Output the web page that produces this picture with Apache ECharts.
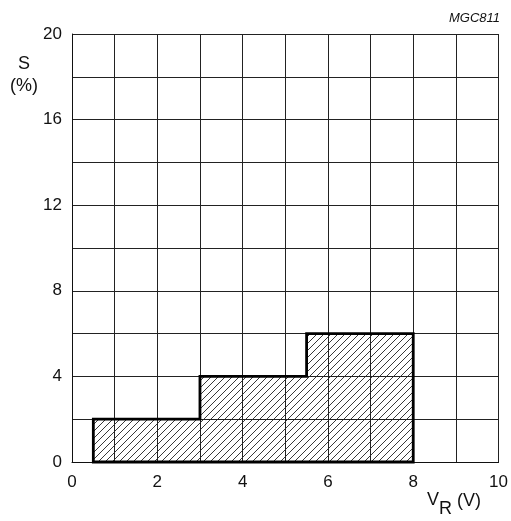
<!DOCTYPE html>
<html><head><meta charset="utf-8">
<script src="https://cdn.jsdelivr.net/npm/echarts@6/dist/echarts.min.js"></script>
<style>html,body{margin:0;padding:0;background:#fff}#c{width:511px;height:521px}</style>
</head><body><div id="c"></div>
<script>
// Data
var stepX = [0.5, 3, 5.5, 8];      // step boundaries, V_R (V)
var stepY = [2, 4, 6];             // S (%) in each interval
var xTicks = [0, 2, 4, 6, 8, 10];
var yTicks = [0, 4, 8, 12, 16, 20];

// hatch pattern
var pc = document.createElement('canvas');
pc.width = 7; pc.height = 7;
var g = pc.getContext('2d');
g.strokeStyle = '#222'; g.lineWidth = 0.9;
g.beginPath();
g.moveTo(-1, 8); g.lineTo(8, -1);
g.moveTo(-1, 1); g.lineTo(1, -1);
g.moveTo(6, 8); g.lineTo(8, 6);
g.stroke();

var chart = echarts.init(document.getElementById('c'));
var font = 'Liberation Sans, Arial, sans-serif';
function txt(x, y, s, size, align, extra) {
  return {type: 'text', x: x, y: y, style: {text: s, font: (extra || '') + size + 'px ' + font,
    fill: '#111', textAlign: align || 'left', textVerticalAlign: 'middle'}};
}
chart.setOption({
  animation: false,
  grid: {left: 72, top: 34, right: 10, bottom: 59},
  xAxis: {
    type: 'value', min: 0, max: 10, interval: 1,
    axisLine: {show: true, onZero: false, lineStyle: {color: '#111', width: 1}},
    axisTick: {show: false},
    splitLine: {show: true, lineStyle: {color: '#222', width: 1}},
    axisLabel: {
      margin: 12, color: '#111', fontSize: 17, fontFamily: font,
      formatter: function (v) { return xTicks.indexOf(v) >= 0 ? String(v) : ''; }
    }
  },
  yAxis: {
    type: 'value', min: 0, max: 20, interval: 2,
    axisLine: {show: true, lineStyle: {color: '#111', width: 1}},
    axisTick: {show: false},
    splitLine: {show: true, lineStyle: {color: '#222', width: 1}},
    axisLabel: {
      margin: 10, color: '#111', fontSize: 17, fontFamily: font,
      formatter: function (v) { return yTicks.indexOf(v) >= 0 ? String(v) : ''; }
    }
  },
  graphic: [
    txt(24, 64, 'S', 18, 'center'),
    txt(24, 86, '(%)', 18, 'center'),
    txt(500, 18, 'MGC811', 13, 'right', 'italic '),
    txt(427, 500, 'V', 18, 'left'),
    txt(439, 509, 'R', 18, 'left'),
    txt(457, 501, '(V)', 18, 'left')
  ],
  series: [{
    type: 'custom',
    coordinateSystem: 'cartesian2d',
    data: [[0, 0]],
    renderItem: function (params, api) {
      var pts = [api.coord([stepX[0], 0])];
      for (var i = 0; i < stepY.length; i++) {
        pts.push(api.coord([stepX[i], stepY[i]]));
        pts.push(api.coord([stepX[i + 1], stepY[i]]));
      }
      pts.push(api.coord([stepX[stepX.length - 1], 0]));
      return {
        type: 'polygon',
        shape: {points: pts},
        style: {fill: {image: pc, repeat: 'repeat'}, stroke: '#000', lineWidth: 2.8, lineJoin: 'miter'}
      };
    }
  }]
});
</script></body></html>
